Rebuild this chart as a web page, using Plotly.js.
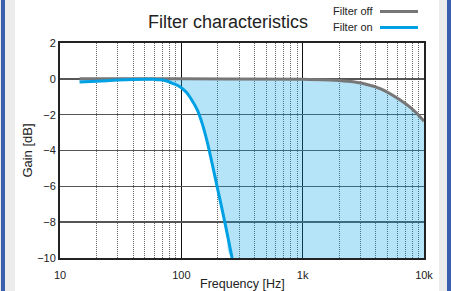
<!DOCTYPE html>
<html>
<head>
<meta charset="utf-8">
<script src="https://cdn.plot.ly/plotly-3.0.1.min.js"></script>
<style>
  html, body { margin: 0; padding: 0; }
  body {
    width: 451px; height: 291px; overflow: hidden;
    background: linear-gradient(to right,
      #e8e8e8 0px, #e8e8e8 1px,
      #3a5fae 1px, #3a5fae 5px,
      #ececec 5px, #ececec 15px,
      #ffffff 15px, #ffffff 439px,
      #ececec 439px, #ececec 447px,
      #3a5fae 447px, #3a5fae 451px);
  }
  #chart { width: 451px; height: 291px; }
</style>
</head>
<body>
<div id="chart"></div>
<script>
// Filter on (blue) curve
const freqOn = [14.5, 20, 30, 40, 50, 60, 67, 76, 86, 98, 110, 119, 135, 148, 163, 179, 197, 217, 238, 262];
const gainOn = [-0.17, -0.13, -0.07, -0.04, -0.03, -0.03, -0.05, -0.12, -0.27, -0.45, -0.75, -1.07, -1.72, -2.46, -3.49, -4.7, -6.0, -7.3, -8.6, -10.0];

// Filter off (gray) curve
const freqOff = [14.5, 100, 1000, 1700, 2300, 3200, 4400, 6000, 7800, 9770, 10000];
const gainOff = [0, 0, -0.03, -0.06, -0.13, -0.27, -0.56, -1.07, -1.62, -2.28, -2.37];

// Axis ticks
const xTickVals = [10, 100, 1000, 10000];
const xTickText = ['10', '100', '1k', '10k'];
const yTickVals = [-10, -8, -6, -4, -2, 0, 2];

const seriesNames = ['Filter off', 'Filter on'];
const seriesColors = ['#777777', '#00a0e4'];

// minor grid positions for the log axis
const minorVals = [];
for (let d = 10; d < 10000; d *= 10) {
  for (let m = 2; m <= 9; m++) minorVals.push(d * m);
}

const xEnd = xTickVals[xTickVals.length - 1];
const yMin = yTickVals[0];

const traces = [
  { // base of the shaded region (blue curve continued along the floor)
    x: freqOn.concat([xEnd]),
    y: gainOn.concat([yMin]),
    mode: 'lines', line: { width: 0, shape: 'spline', color: 'rgba(0,0,0,0)' },
    hoverinfo: 'skip', showlegend: false
  },
  {
    x: freqOff, y: gainOff, name: seriesNames[0],
    mode: 'lines', line: { width: 3, color: seriesColors[0], shape: 'spline' },
    fill: 'tonexty', fillcolor: 'rgba(0,160,228,0.29)',
    showlegend: false
  },
  {
    x: freqOn, y: gainOn, name: seriesNames[1],
    mode: 'lines', line: { width: 3, color: seriesColors[1], shape: 'spline' },
    showlegend: false
  }
];

const font = 'Liberation Sans, Arial, Helvetica, sans-serif';

const layout = {
  width: 451, height: 291,
  margin: { l: 60, r: 27, t: 43, b: 33, pad: 0 },
  paper_bgcolor: 'rgba(0,0,0,0)',
  plot_bgcolor: 'rgba(0,0,0,0)',
  font: { family: font, color: '#222', size: 11 },
  showlegend: false,
  title: {
    text: 'Filter characteristics',
    font: { family: font, size: 18, color: '#222' },
    xref: 'container', x: 228 / 451, xanchor: 'center',
    yref: 'container', y: 1 - 21.5 / 291, yanchor: 'middle'
  },
  xaxis: {
    type: 'log', range: [1, 4],
    tickmode: 'array', tickvals: xTickVals, ticktext: xTickText,
    ticks: '', showgrid: true, gridcolor: '#111', gridwidth: 1,
    showline: true, mirror: true, linecolor: '#222', linewidth: 2,
    zeroline: false, ticklabelstandoff: 6,
    tickfont: { size: 11, color: '#222' },
    minor: { tickmode: 'array', tickvals: minorVals, showgrid: true, gridcolor: '#666', gridwidth: 1, griddash: '1px,1px', ticks: '' },
    fixedrange: true
  },
  yaxis: {
    range: [-10, 2],
    tickmode: 'array', tickvals: yTickVals,
    ticks: '', showgrid: true, gridcolor: '#555', gridwidth: 1.5,
    showline: true, mirror: true, linecolor: '#222', linewidth: 2,
    zeroline: false,
    tickfont: { size: 11, color: '#222' },
    title: { text: 'Gain [dB]', font: { size: 13, color: '#222' }, standoff: 2 },
    fixedrange: true
  },
  annotations: [
    { text: 'Frequency [Hz]', xref: 'paper', yref: 'paper', x: 0.5, y: (258 - 284) / 215,
      xanchor: 'center', yanchor: 'middle', showarrow: false, font: { size: 12.5, color: '#222' } },
    { text: seriesNames[0], xref: 'paper', yref: 'paper', x: (375 - 60) / 364, y: (258 - 11) / 215,
      xanchor: 'right', yanchor: 'middle', showarrow: false, font: { size: 11, color: '#222' } },
    { text: seriesNames[1], xref: 'paper', yref: 'paper', x: (375 - 60) / 364, y: (258 - 27) / 215,
      xanchor: 'right', yanchor: 'middle', showarrow: false, font: { size: 11, color: '#222' } }
  ],
  shapes: [
    { type: 'line', xref: 'paper', yref: 'paper', x0: (380 - 60) / 364, x1: (418 - 60) / 364,
      y0: (258 - 11.5) / 215, y1: (258 - 11.5) / 215, line: { color: seriesColors[0], width: 3 } },
    { type: 'line', xref: 'paper', yref: 'paper', x0: (380 - 60) / 364, x1: (418 - 60) / 364,
      y0: (258 - 27.5) / 215, y1: (258 - 27.5) / 215, line: { color: seriesColors[1], width: 3 } }
  ]
};

Plotly.newPlot('chart', traces, layout, { staticPlot: true, displayModeBar: false });
</script>
</body>
</html>
